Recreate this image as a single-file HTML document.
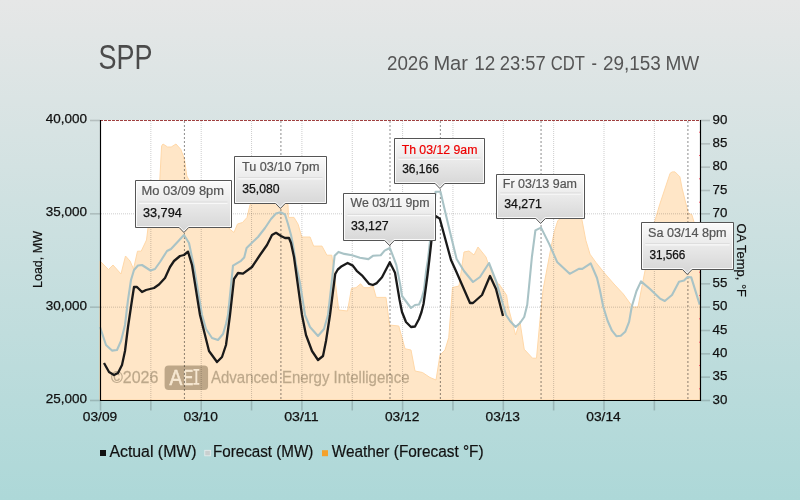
<!DOCTYPE html><html><head><meta charset="utf-8"><style>
html,body{margin:0;padding:0;}body{width:800px;height:500px;overflow:hidden;background:linear-gradient(to bottom,#e6e7e7 0%,#add8d8 100%);}
svg{display:block;font-family:"Liberation Sans", sans-serif;will-change:transform;}
</style></head><body>
<svg width="800" height="500" viewBox="0 0 800 500">
<defs><linearGradient id="tg" x1="0" y1="0" x2="0" y2="1"><stop offset="0" stop-color="#fbfbfb"/><stop offset="1" stop-color="#d4d4d4"/></linearGradient></defs>
<text x="98.5" y="69" font-size="34.5" fill="#4b4b4b" textLength="54" lengthAdjust="spacingAndGlyphs">SPP</text>
<text x="386.96" y="70" font-size="19.3" fill="#555" textLength="41.84" lengthAdjust="spacingAndGlyphs">2026</text><text x="433.40" y="70" font-size="19.3" fill="#555" textLength="34.60" lengthAdjust="spacingAndGlyphs">Mar</text><text x="474.16" y="70" font-size="19.3" fill="#555" textLength="21.02" lengthAdjust="spacingAndGlyphs">12</text><text x="499.72" y="70" font-size="19.3" fill="#555" textLength="45.98" lengthAdjust="spacingAndGlyphs">23:57</text><text x="550.82" y="70" font-size="19.3" fill="#555" textLength="34.18" lengthAdjust="spacingAndGlyphs">CDT</text><text x="591.44" y="70" font-size="19.3" fill="#555" textLength="5.46" lengthAdjust="spacingAndGlyphs">-</text><text x="602.96" y="70" font-size="19.3" fill="#555" textLength="57.84" lengthAdjust="spacingAndGlyphs">29,153</text><text x="665.40" y="70" font-size="19.3" fill="#555" textLength="33.84" lengthAdjust="spacingAndGlyphs">MW</text>
<rect x="100" y="120" width="600" height="280" fill="#fff"/>
<polygon points="100,400 100,261 108.5,269.5 113,265 121,274 125.5,256 130,261 133.5,269 137.5,251.2 141.2,251.2 146.5,240 148,228 159,195 161.6,146 163,144 167.6,147 171.2,147 176,144 180.8,149.4 184.4,159 186.8,176 200,200 215,215 232,231 234,232.5 237.5,224 242.5,222.5 247,217.5 250,205 258,190 268,180 280,182 288,205 288.5,217.4 294,217.4 298.2,224.4 301.7,237 310.1,237 313.6,246.1 322,246.1 326.9,255.2 331.8,255.2 335,280 338.75,310 347.5,311 351.5,288.3 356,287.7 360.6,283.8 363.8,287.7 369,287.7 372.9,285.7 376.2,297.4 386,297.4 389.5,325 398.75,326 405,348.75 411,350 415,371 422.5,372.5 430,377.5 436,380 440,355 445,350 448.75,337.5 452.5,287.5 459,286 464,252 469,251 474,255 478,247 486,257 488,263 494,277 499,285 499,284 506.6,295.2 508.5,308 515.6,335 519.9,321.5 524.2,349.2 532.5,358.2 536.5,358.2 540,320 543,290 550.8,248.6 554.3,231.8 557.8,220.6 561.3,218 565,200 575,198 581.6,218 585.8,240.2 590,254.2 596,262.5 604.4,273 614,284 623.3,294 631.7,305.6 633,307 638,307 643.3,279.3 645.4,268.8 649,245 654.7,221.6 659.6,204.8 665.2,188 670.1,173.3 672.2,171.9 675,171.9 679.9,176.8 682,188 686.9,207.6 688.3,213.2 691.8,214.6 693.9,221.6 700,240 700,400" fill="#ffe6c7" stroke="#ffd8a8" stroke-width="1" stroke-linejoin="round"/>
<g fill="rgb(100,80,50)" fill-opacity="0.43" stroke="#c2b095" stroke-width="0.3">
<text x="111" y="383" font-size="17" textLength="47.4" lengthAdjust="spacingAndGlyphs">©2026</text>
<text x="211" y="383" font-size="17" textLength="198.5" lengthAdjust="spacingAndGlyphs">Advanced Energy Intelligence</text>
</g>
<rect x="164.6" y="365.6" width="43.5" height="24.4" rx="4" fill="rgb(100,80,50)" fill-opacity="0.42"/>
<text x="169.6" y="384.8" font-size="22" fill="#f7e8d2" stroke="#f7e8d2" stroke-width="0.6" textLength="12.8" lengthAdjust="spacingAndGlyphs">A</text>
<text x="183.2" y="384.8" font-size="22" fill="#f7e8d2" stroke="#f7e8d2" stroke-width="0.6" textLength="10" lengthAdjust="spacingAndGlyphs">E</text>
<path d="M193.4,368.9 H199.3 V370.8 H197.3 V382.9 H199.3 V384.8 H193.4 V382.9 H195.4 V370.8 H193.4 Z" fill="#f7e8d2"/>
<line x1="150.85" y1="121" x2="150.85" y2="400" stroke="#000" stroke-opacity="0.2" stroke-width="1" stroke-dasharray="1,1"/><line x1="201.20" y1="121" x2="201.20" y2="400" stroke="#000" stroke-opacity="0.2" stroke-width="1" stroke-dasharray="1,1"/><line x1="251.55" y1="121" x2="251.55" y2="400" stroke="#000" stroke-opacity="0.2" stroke-width="1" stroke-dasharray="1,1"/><line x1="301.90" y1="121" x2="301.90" y2="400" stroke="#000" stroke-opacity="0.2" stroke-width="1" stroke-dasharray="1,1"/><line x1="352.25" y1="121" x2="352.25" y2="400" stroke="#000" stroke-opacity="0.2" stroke-width="1" stroke-dasharray="1,1"/><line x1="402.60" y1="121" x2="402.60" y2="400" stroke="#000" stroke-opacity="0.2" stroke-width="1" stroke-dasharray="1,1"/><line x1="452.95" y1="121" x2="452.95" y2="400" stroke="#000" stroke-opacity="0.2" stroke-width="1" stroke-dasharray="1,1"/><line x1="503.30" y1="121" x2="503.30" y2="400" stroke="#000" stroke-opacity="0.2" stroke-width="1" stroke-dasharray="1,1"/><line x1="553.65" y1="121" x2="553.65" y2="400" stroke="#000" stroke-opacity="0.2" stroke-width="1" stroke-dasharray="1,1"/><line x1="604.00" y1="121" x2="604.00" y2="400" stroke="#000" stroke-opacity="0.2" stroke-width="1" stroke-dasharray="1,1"/><line x1="654.35" y1="121" x2="654.35" y2="400" stroke="#000" stroke-opacity="0.2" stroke-width="1" stroke-dasharray="1,1"/><line x1="101" y1="213.83" x2="700" y2="213.83" stroke="#000" stroke-opacity="0.2" stroke-width="1" stroke-dasharray="1,1"/><line x1="101" y1="307.17" x2="700" y2="307.17" stroke="#000" stroke-opacity="0.2" stroke-width="1" stroke-dasharray="1,1"/>
<line x1="184.42" y1="121" x2="184.42" y2="400" stroke="#000" stroke-opacity="0.45" stroke-width="1" stroke-dasharray="2,2"/>
<line x1="280.92" y1="121" x2="280.92" y2="400" stroke="#000" stroke-opacity="0.45" stroke-width="1" stroke-dasharray="2,2"/>
<line x1="390.01" y1="121" x2="390.01" y2="400" stroke="#000" stroke-opacity="0.45" stroke-width="1" stroke-dasharray="2,2"/>
<line x1="440.36" y1="121" x2="440.36" y2="400" stroke="#000" stroke-opacity="0.45" stroke-width="1" stroke-dasharray="2,2"/>
<line x1="541.06" y1="121" x2="541.06" y2="400" stroke="#000" stroke-opacity="0.45" stroke-width="1" stroke-dasharray="2,2"/>
<line x1="687.91" y1="121" x2="687.91" y2="400" stroke="#000" stroke-opacity="0.45" stroke-width="1" stroke-dasharray="2,2"/>
<line x1="100" y1="120.5" x2="700" y2="120.5" stroke="#a04040" stroke-width="1" stroke-dasharray="3,1"/>
<polyline points="100,327 106,345 112,350.6 117,350 121,341 125,325 128,300 131,280 134,270 138,265.5 142,265 150.5,270.5 155,269 160,262 167,251 171,249 184,235 189,243 194,267 202,315 206,329 212,338 218,340 223,334 226,324 228,315 233,265.6 241,260.8 244.2,257.6 246.6,248 252.2,242.4 258,237 265,228 271,219 276,213.5 280.5,212.2 285,214.5 288,224 291,235 293,245 296.1,265 300,283 305,315 310,327 318,336 324,329 328,315 332.5,275 334.6,255.8 338.5,251.9 344.3,253.9 352.1,255.2 359.9,257.8 368.4,259.1 372.9,255.8 380.7,255.2 384.6,250.6 389.8,248 393.7,257.8 396.3,264.9 400.2,284.4 402,296 405,300 408,304 411,308 415,305 419,304.5 421.5,299 424,290 426,272 427.9,260 435.6,191.7 440.5,191.7 445,211 450,232 456.6,259 464,271 473,282 480,277 489,263 496,281 502,301 506,315 510,321 515.6,327 520,323 524.2,317 527.2,305 528.7,290 531.9,257 535.4,230.4 541,227.6 549.4,244.4 557.1,261.9 569.7,273.8 578.8,268.9 582.3,268.9 590.7,263.3 597,278 599.9,290 603.2,306.5 607.6,320.8 612,330.7 616.4,336.2 620.8,335.7 625.2,331.8 629.1,321.9 631.8,306.5 636.5,291 641,281.4 650,289 660,298.6 664.8,301 672,295 679,281.7 684,280.5 687.6,277 691.25,277.4 699.7,304.6" fill="none" stroke="#a9c3c6" stroke-width="2.1" stroke-linejoin="round"/>
<polyline points="104,363 109,372 114,375 118,373 122,365 125,351 128,327 132,300 134,287 137,287 142,292 146,290 154,288 159,284.5 165,278 170,267 174,261 180,256 184,255 188,251.6 192,265 200,315 204,331 209,351 217,362 222,357 226,345 230,315 234,279 238,273 243,273.6 252,267 260,255 267,245 272,235 276,232.8 281,236 285,238 289,238 291,243 294,257 302,315 306,335 312,351 318,360 323,356 326,341 330,315 335.2,274 337.8,269.5 341.7,266.2 347.6,263 352.8,265.6 356.7,270.8 361.9,275.3 369,283.8 372.9,285 376.8,283.1 382,277.3 389.8,262.3 395,272.7 399.6,300 402,312 406,322 411,327 415,326.5 419,319 421.5,312 423.5,304 425.5,290 427.5,275 429.3,260 432.1,234.8 435.6,215.9 439.8,218.7 451,260 456,271 470,303 473,303 482,295 490,276 496,289 503,316" fill="none" stroke="#1a1a1a" stroke-width="2.3" stroke-linejoin="round"/>
<line x1="100.5" y1="120" x2="100.5" y2="401" stroke="#000" stroke-width="1.15"/>
<line x1="700.5" y1="120" x2="700.5" y2="401" stroke="#000" stroke-width="1.15"/>
<line x1="100" y1="400.5" x2="701" y2="400.5" stroke="#000" stroke-width="1.15"/>
<line x1="699" y1="132.2" x2="700" y2="132.2" stroke="#ee5566" stroke-width="1"/>
<line x1="699" y1="155.5" x2="700" y2="155.5" stroke="#ee5566" stroke-width="1"/>
<line x1="699" y1="178.8" x2="700" y2="178.8" stroke="#ee5566" stroke-width="1"/>
<line x1="699" y1="202.2" x2="700" y2="202.2" stroke="#ee5566" stroke-width="1"/>
<line x1="699" y1="225.5" x2="700" y2="225.5" stroke="#ee5566" stroke-width="1"/>
<line x1="699" y1="248.8" x2="700" y2="248.8" stroke="#ee5566" stroke-width="1"/>
<line x1="699" y1="272.2" x2="700" y2="272.2" stroke="#ee5566" stroke-width="1"/>
<line x1="699" y1="295.5" x2="700" y2="295.5" stroke="#ee5566" stroke-width="1"/>
<line x1="699" y1="318.8" x2="700" y2="318.8" stroke="#ee5566" stroke-width="1"/>
<line x1="699" y1="342.2" x2="700" y2="342.2" stroke="#ee5566" stroke-width="1"/>
<line x1="699" y1="365.5" x2="700" y2="365.5" stroke="#ee5566" stroke-width="1"/>
<line x1="699" y1="388.8" x2="700" y2="388.8" stroke="#ee5566" stroke-width="1"/>
<line x1="90" y1="120.50" x2="100" y2="120.50" stroke="#000" stroke-opacity="0.16" stroke-width="1.6"/>
<text x="87" y="123.00" font-size="12.6" fill="#111" stroke="#111" stroke-width="0.25" text-anchor="end" textLength="41.2" lengthAdjust="spacingAndGlyphs">40,000</text>
<line x1="90" y1="213.83" x2="100" y2="213.83" stroke="#000" stroke-opacity="0.16" stroke-width="1.6"/>
<text x="87" y="216.33" font-size="12.6" fill="#111" stroke="#111" stroke-width="0.25" text-anchor="end" textLength="41.2" lengthAdjust="spacingAndGlyphs">35,000</text>
<line x1="90" y1="307.17" x2="100" y2="307.17" stroke="#000" stroke-opacity="0.16" stroke-width="1.6"/>
<text x="87" y="309.67" font-size="12.6" fill="#111" stroke="#111" stroke-width="0.25" text-anchor="end" textLength="41.2" lengthAdjust="spacingAndGlyphs">30,000</text>
<line x1="90" y1="400.50" x2="100" y2="400.50" stroke="#000" stroke-opacity="0.16" stroke-width="1.6"/>
<text x="87" y="403.00" font-size="12.6" fill="#111" stroke="#111" stroke-width="0.25" text-anchor="end" textLength="41.2" lengthAdjust="spacingAndGlyphs">25,000</text>
<line x1="700" y1="120.50" x2="710" y2="120.50" stroke="#000" stroke-opacity="0.16" stroke-width="1.6"/>
<text x="712.5" y="123.80" font-size="12.6" fill="#111" stroke="#111" stroke-width="0.25" textLength="14.8" lengthAdjust="spacingAndGlyphs">90</text>
<line x1="700" y1="143.83" x2="710" y2="143.83" stroke="#000" stroke-opacity="0.16" stroke-width="1.6"/>
<text x="712.5" y="147.13" font-size="12.6" fill="#111" stroke="#111" stroke-width="0.25" textLength="14.8" lengthAdjust="spacingAndGlyphs">85</text>
<line x1="700" y1="167.17" x2="710" y2="167.17" stroke="#000" stroke-opacity="0.16" stroke-width="1.6"/>
<text x="712.5" y="170.47" font-size="12.6" fill="#111" stroke="#111" stroke-width="0.25" textLength="14.8" lengthAdjust="spacingAndGlyphs">80</text>
<line x1="700" y1="190.50" x2="710" y2="190.50" stroke="#000" stroke-opacity="0.16" stroke-width="1.6"/>
<text x="712.5" y="193.80" font-size="12.6" fill="#111" stroke="#111" stroke-width="0.25" textLength="14.8" lengthAdjust="spacingAndGlyphs">75</text>
<line x1="700" y1="213.83" x2="710" y2="213.83" stroke="#000" stroke-opacity="0.16" stroke-width="1.6"/>
<text x="712.5" y="217.13" font-size="12.6" fill="#111" stroke="#111" stroke-width="0.25" textLength="14.8" lengthAdjust="spacingAndGlyphs">70</text>
<line x1="700" y1="237.16" x2="710" y2="237.16" stroke="#000" stroke-opacity="0.16" stroke-width="1.6"/>
<text x="712.5" y="240.47" font-size="12.6" fill="#111" stroke="#111" stroke-width="0.25" textLength="14.8" lengthAdjust="spacingAndGlyphs">65</text>
<line x1="700" y1="260.50" x2="710" y2="260.50" stroke="#000" stroke-opacity="0.16" stroke-width="1.6"/>
<text x="712.5" y="263.80" font-size="12.6" fill="#111" stroke="#111" stroke-width="0.25" textLength="14.8" lengthAdjust="spacingAndGlyphs">60</text>
<line x1="700" y1="283.83" x2="710" y2="283.83" stroke="#000" stroke-opacity="0.16" stroke-width="1.6"/>
<text x="712.5" y="287.13" font-size="12.6" fill="#111" stroke="#111" stroke-width="0.25" textLength="14.8" lengthAdjust="spacingAndGlyphs">55</text>
<line x1="700" y1="307.16" x2="710" y2="307.16" stroke="#000" stroke-opacity="0.16" stroke-width="1.6"/>
<text x="712.5" y="310.46" font-size="12.6" fill="#111" stroke="#111" stroke-width="0.25" textLength="14.8" lengthAdjust="spacingAndGlyphs">50</text>
<line x1="700" y1="330.50" x2="710" y2="330.50" stroke="#000" stroke-opacity="0.16" stroke-width="1.6"/>
<text x="712.5" y="333.80" font-size="12.6" fill="#111" stroke="#111" stroke-width="0.25" textLength="14.8" lengthAdjust="spacingAndGlyphs">45</text>
<line x1="700" y1="353.83" x2="710" y2="353.83" stroke="#000" stroke-opacity="0.16" stroke-width="1.6"/>
<text x="712.5" y="357.13" font-size="12.6" fill="#111" stroke="#111" stroke-width="0.25" textLength="14.8" lengthAdjust="spacingAndGlyphs">40</text>
<line x1="700" y1="377.16" x2="710" y2="377.16" stroke="#000" stroke-opacity="0.16" stroke-width="1.6"/>
<text x="712.5" y="380.46" font-size="12.6" fill="#111" stroke="#111" stroke-width="0.25" textLength="14.8" lengthAdjust="spacingAndGlyphs">35</text>
<line x1="700" y1="400.50" x2="710" y2="400.50" stroke="#000" stroke-opacity="0.16" stroke-width="1.6"/>
<text x="712.5" y="403.80" font-size="12.6" fill="#111" stroke="#111" stroke-width="0.25" textLength="14.8" lengthAdjust="spacingAndGlyphs">30</text>
<line x1="100.50" y1="401" x2="100.50" y2="410.5" stroke="#000" stroke-opacity="0.16" stroke-width="1.6"/>
<line x1="150.85" y1="401" x2="150.85" y2="410.5" stroke="#000" stroke-opacity="0.16" stroke-width="1.6"/>
<line x1="201.20" y1="401" x2="201.20" y2="410.5" stroke="#000" stroke-opacity="0.16" stroke-width="1.6"/>
<line x1="251.55" y1="401" x2="251.55" y2="410.5" stroke="#000" stroke-opacity="0.16" stroke-width="1.6"/>
<line x1="301.90" y1="401" x2="301.90" y2="410.5" stroke="#000" stroke-opacity="0.16" stroke-width="1.6"/>
<line x1="352.25" y1="401" x2="352.25" y2="410.5" stroke="#000" stroke-opacity="0.16" stroke-width="1.6"/>
<line x1="402.60" y1="401" x2="402.60" y2="410.5" stroke="#000" stroke-opacity="0.16" stroke-width="1.6"/>
<line x1="452.95" y1="401" x2="452.95" y2="410.5" stroke="#000" stroke-opacity="0.16" stroke-width="1.6"/>
<line x1="503.30" y1="401" x2="503.30" y2="410.5" stroke="#000" stroke-opacity="0.16" stroke-width="1.6"/>
<line x1="553.65" y1="401" x2="553.65" y2="410.5" stroke="#000" stroke-opacity="0.16" stroke-width="1.6"/>
<line x1="604.00" y1="401" x2="604.00" y2="410.5" stroke="#000" stroke-opacity="0.16" stroke-width="1.6"/>
<line x1="654.35" y1="401" x2="654.35" y2="410.5" stroke="#000" stroke-opacity="0.16" stroke-width="1.6"/>
<text x="100.00" y="420.6" font-size="12.6" fill="#111" stroke="#111" stroke-width="0.25" text-anchor="middle" textLength="34.4" lengthAdjust="spacingAndGlyphs">03/09</text>
<text x="200.70" y="420.6" font-size="12.6" fill="#111" stroke="#111" stroke-width="0.25" text-anchor="middle" textLength="34.4" lengthAdjust="spacingAndGlyphs">03/10</text>
<text x="301.40" y="420.6" font-size="12.6" fill="#111" stroke="#111" stroke-width="0.25" text-anchor="middle" textLength="34.4" lengthAdjust="spacingAndGlyphs">03/11</text>
<text x="402.10" y="420.6" font-size="12.6" fill="#111" stroke="#111" stroke-width="0.25" text-anchor="middle" textLength="34.4" lengthAdjust="spacingAndGlyphs">03/12</text>
<text x="502.80" y="420.6" font-size="12.6" fill="#111" stroke="#111" stroke-width="0.25" text-anchor="middle" textLength="34.4" lengthAdjust="spacingAndGlyphs">03/13</text>
<text x="603.50" y="420.6" font-size="12.6" fill="#111" stroke="#111" stroke-width="0.25" text-anchor="middle" textLength="34.4" lengthAdjust="spacingAndGlyphs">03/14</text>
<text transform="translate(41.6,259.5) rotate(-90)" font-size="13.5" fill="#111" stroke="#111" stroke-width="0.2" text-anchor="middle" textLength="57" lengthAdjust="spacingAndGlyphs">Load, MW</text>
<text transform="translate(737,260.3) rotate(90)" font-size="13.5" fill="#111" stroke="#111" stroke-width="0.2" text-anchor="middle" textLength="73.4" lengthAdjust="spacingAndGlyphs">OA Temp, °F</text>
<path d="M135.5,180.5 H231.5 V227.5 H188.70 L183.90,232.5 L179.10,227.5 H135.5 Z" fill="url(#tg)" stroke="#555" stroke-width="1"/>
<path d="M136.5,181.5 H230.5 V226.5 H188.30 L183.90,231.10 L179.50,226.5 H136.5 Z" fill="none" stroke="#fff" stroke-opacity="0.85" stroke-width="1"/>
<line x1="139.2" y1="203.20000000000002" x2="227.5" y2="203.20000000000002" stroke="#f8f8f8" stroke-width="1.4"/>
<line x1="139.2" y1="202.00000000000003" x2="227.5" y2="202.00000000000003" stroke="#d8d8d8" stroke-width="0.8"/>
<text x="141.60" y="194.5" font-size="12.3" fill="#555" stroke="#555" stroke-width="0.2" textLength="82.4" lengthAdjust="spacingAndGlyphs">Mo 03/09 8pm</text>
<text x="142.95" y="216.7" font-size="12.3" fill="#111" stroke="#111" stroke-width="0.25" textLength="38.85" lengthAdjust="spacingAndGlyphs">33,794</text>
<path d="M234.5,156.5 H326.5 V203.5 H285.20 L280.40,208.5 L275.60,203.5 H234.5 Z" fill="url(#tg)" stroke="#555" stroke-width="1"/>
<path d="M235.5,157.5 H325.5 V202.5 H284.80 L280.40,207.10 L276.00,202.5 H235.5 Z" fill="none" stroke="#fff" stroke-opacity="0.85" stroke-width="1"/>
<line x1="238.4" y1="178.79999999999998" x2="322.4" y2="178.79999999999998" stroke="#f8f8f8" stroke-width="1.4"/>
<line x1="238.4" y1="177.6" x2="322.4" y2="177.6" stroke="#d8d8d8" stroke-width="0.8"/>
<text x="242.00" y="170.6" font-size="12.3" fill="#555" stroke="#555" stroke-width="0.2" textLength="77.4" lengthAdjust="spacingAndGlyphs">Tu 03/10 7pm</text>
<text x="242.20" y="192.6" font-size="12.3" fill="#111" stroke="#111" stroke-width="0.25" textLength="37.45" lengthAdjust="spacingAndGlyphs">35,080</text>
<path d="M343.5,193.5 H435.5 V240.5 H394.30 L389.50,245.5 L384.70,240.5 H343.5 Z" fill="url(#tg)" stroke="#555" stroke-width="1"/>
<path d="M344.5,194.5 H434.5 V239.5 H393.90 L389.50,244.10 L385.10,239.5 H344.5 Z" fill="none" stroke="#fff" stroke-opacity="0.85" stroke-width="1"/>
<line x1="347.4" y1="215.6" x2="431.5" y2="215.6" stroke="#f8f8f8" stroke-width="1.4"/>
<line x1="347.4" y1="214.4" x2="431.5" y2="214.4" stroke="#d8d8d8" stroke-width="0.8"/>
<text x="350.50" y="207.4" font-size="12.3" fill="#555" stroke="#555" stroke-width="0.2" textLength="78.9" lengthAdjust="spacingAndGlyphs">We 03/11 9pm</text>
<text x="350.90" y="229.6" font-size="12.3" fill="#111" stroke="#111" stroke-width="0.25" textLength="37.8" lengthAdjust="spacingAndGlyphs">33,127</text>
<path d="M394.5,138.5 H484.5 V183.5 H444.70 L439.90,188.5 L435.10,183.5 H394.5 Z" fill="url(#tg)" stroke="#555" stroke-width="1"/>
<path d="M395.5,139.5 H483.5 V182.5 H444.30 L439.90,187.10 L435.50,182.5 H395.5 Z" fill="none" stroke="#fff" stroke-opacity="0.85" stroke-width="1"/>
<line x1="398.4" y1="159.2" x2="480.6" y2="159.2" stroke="#f8f8f8" stroke-width="1.4"/>
<line x1="398.4" y1="158.0" x2="480.6" y2="158.0" stroke="#d8d8d8" stroke-width="0.8"/>
<text x="401.65" y="153.79999999999998" font-size="12.3" fill="#ee0000" stroke="#ee0000" stroke-width="0.2" textLength="75.75" lengthAdjust="spacingAndGlyphs">Th 03/12 9am</text>
<text x="402.15" y="172.5" font-size="12.3" fill="#111" stroke="#111" stroke-width="0.25" textLength="36.75" lengthAdjust="spacingAndGlyphs">36,166</text>
<path d="M496.5,174.5 H584.5 V218.5 H545.40 L540.60,223.5 L535.80,218.5 H496.5 Z" fill="url(#tg)" stroke="#555" stroke-width="1"/>
<path d="M497.5,175.5 H583.5 V217.5 H545.00 L540.60,222.10 L536.20,217.5 H497.5 Z" fill="none" stroke="#fff" stroke-opacity="0.85" stroke-width="1"/>
<line x1="500.4" y1="194.1" x2="580.9" y2="194.1" stroke="#f8f8f8" stroke-width="1.4"/>
<line x1="500.4" y1="192.9" x2="580.9" y2="192.9" stroke="#d8d8d8" stroke-width="0.8"/>
<text x="502.80" y="188.39999999999998" font-size="12.3" fill="#555" stroke="#555" stroke-width="0.2" textLength="74.2" lengthAdjust="spacingAndGlyphs">Fr 03/13 9am</text>
<text x="504.30" y="207.6" font-size="12.3" fill="#111" stroke="#111" stroke-width="0.25" textLength="37.5" lengthAdjust="spacingAndGlyphs">34,271</text>
<path d="M641.5,222.5 H733.5 V269.5 H692.10 L687.30,274.5 L682.50,269.5 H641.5 Z" fill="url(#tg)" stroke="#555" stroke-width="1"/>
<path d="M642.5,223.5 H732.5 V268.5 H691.70 L687.30,273.10 L682.90,268.5 H642.5 Z" fill="none" stroke="#fff" stroke-opacity="0.85" stroke-width="1"/>
<line x1="645.4" y1="244.79999999999998" x2="729.6" y2="244.79999999999998" stroke="#f8f8f8" stroke-width="1.4"/>
<line x1="645.4" y1="243.6" x2="729.6" y2="243.6" stroke="#d8d8d8" stroke-width="0.8"/>
<text x="648.00" y="236.6" font-size="12.3" fill="#555" stroke="#555" stroke-width="0.2" textLength="78.6" lengthAdjust="spacingAndGlyphs">Sa 03/14 8pm</text>
<text x="649.40" y="258.59999999999997" font-size="12.3" fill="#111" stroke="#111" stroke-width="0.25" textLength="36" lengthAdjust="spacingAndGlyphs">31,566</text>
<rect x="100" y="450" width="6" height="6" fill="#111"/>
<text x="109.4" y="456.5" font-size="16.3" fill="#111" stroke="#111" stroke-width="0.2" textLength="87.2" lengthAdjust="spacingAndGlyphs">Actual (MW)</text>
<rect x="204.8" y="450.3" width="5.5" height="5.5" fill="#c9cfcf" stroke="#e8eeee" stroke-width="0.8"/>
<text x="212.9" y="456.5" font-size="16.3" fill="#111" stroke="#111" stroke-width="0.2" textLength="100.5" lengthAdjust="spacingAndGlyphs">Forecast (MW)</text>
<rect x="322" y="450.2" width="6" height="6" fill="#f5a12a"/>
<text x="331.7" y="456.5" font-size="16.3" fill="#111" stroke="#111" stroke-width="0.2" textLength="151.9" lengthAdjust="spacingAndGlyphs">Weather (Forecast °F)</text>
</svg></body></html>
